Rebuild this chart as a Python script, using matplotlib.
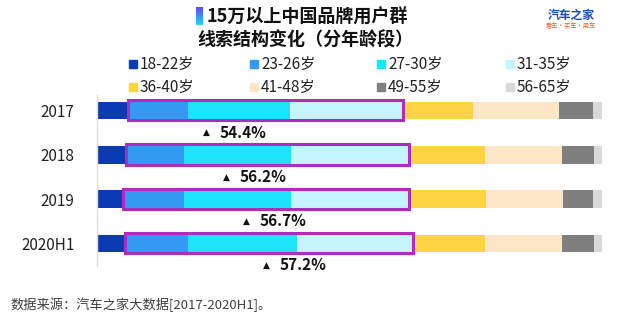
import matplotlib
matplotlib.use('Agg')
import matplotlib.pyplot as plt
from matplotlib.patches import Rectangle
import numpy as np

plt.rcParams['font.family'] = ['Noto Sans CJK SC', 'DejaVu Sans']

years = ['2017', '2018', '2019', '2020H1']
age_groups = ['18-22岁', '23-26岁', '27-30岁', '31-35岁',
              '36-40岁', '41-48岁', '49-55岁', '56-65岁']
s18_22 = [6.0, 5.5, 4.9, 5.3]
s23_26 = [12.0, 11.8, 12.4, 12.8]
s27_30 = [20.2, 21.2, 21.2, 21.5]
s31_35 = [22.2, 23.2, 23.1, 22.9]
s36_40 = [14.1, 15.1, 15.5, 14.3]
s41_48 = [16.9, 15.3, 15.1, 15.3]
s49_55 = [6.8, 6.3, 6.0, 6.3]
s56_65 = [1.8, 1.6, 1.8, 1.6]
shares = [s18_22, s23_26, s27_30, s31_35, s36_40, s41_48, s49_55, s56_65]
colors = ['#0A3BB0', '#3399F3', '#1DE4FA', '#C4F5FC',
          '#FDD343', '#FDE6C6', '#7F7F7F', '#D9D9D9']
box_color = '#B02CC0'

W, H = 620, 332
fig = plt.figure(figsize=(6.2, 3.32), dpi=100)
ax = fig.add_axes([97 / W, 1 - 265.5 / H, (602 - 97) / W, (265.5 - 95) / H])

y = np.arange(len(years))
left = np.zeros(len(years))
for vals, c in zip(shares, colors):
    ax.barh(y, vals, left=left, height=0.40, color=c, edgecolor='none')
    left += np.array(vals)

# magenta box around 23-35 groups + share label
for i in range(len(years)):
    x0 = s18_22[i]
    w = s23_26[i] + s27_30[i] + s31_35[i]
    ax.add_patch(Rectangle((x0 + 0.15, y[i] - 0.235), w, 0.46, fill=False,
                           edgecolor=box_color, lw=2.2, zorder=5))
    tx = 21.7 + 3.97 * i
    ax.text(tx, y[i] + 0.5, '▲', fontsize=6.5, ha='center', va='center',
            color='#111111', family=['DejaVu Sans'])
    ax.text(tx + 2.6, y[i] + 0.5, f'{w:.1f}%', fontsize=11, fontweight='bold',
            ha='left', va='center', color='#111111')

ax.set_xlim(0, 100)
ax.set_ylim(3.5, -0.35)
ax.set_yticks(y)
ax.set_yticklabels(years, fontsize=11, color='#222222')
ax.tick_params(axis='y', length=0, pad=16)
ax.set_xticks([])
for s in ['top', 'right', 'bottom']:
    ax.spines[s].set_visible(False)
ax.spines['left'].set_color('#DDDDDD')
ax.spines['left'].set_linewidth(1)

# legend drawn by hand
lx = [133, 254, 381, 510]
ly = [64, 87]
for k, (lab, c) in enumerate(zip(age_groups, colors)):
    px = lx[k % 4]
    py = ly[k // 4]
    fig.patches.append(Rectangle(((px - 4) / W, 1 - (py + 4) / H), 8 / W, 8 / H,
                                 transform=fig.transFigure, color=c, figure=fig))
    fig.text((px + 7) / W, 1 - py / H, lab, fontsize=11, ha='left', va='center',
             color='#222222')

# title
grad = np.linspace(0, 1, 50).reshape(-1, 1)
gax = fig.add_axes([196 / W, 1 - 25 / H, 7 / W, 18 / H])
gax.imshow(grad, aspect='auto',
           cmap=matplotlib.colors.LinearSegmentedColormap.from_list('g', ['#5B4BF0', '#27D3F5']))
gax.axis('off')
fig.text(206 / W, 1 - 17.5 / H, '15万以上中国品牌用户群', fontsize=13, fontweight='bold',
         ha='left', va='center', color='#111111')
fig.text(197 / W, 1 - 40 / H, '线索结构变化（分年龄段）', fontsize=13, fontweight='bold',
         ha='left', va='center', color='#111111')

# logo
fig.text(571 / W, 1 - 15 / H, '汽车之家', fontsize=8.5, fontweight='bold',
         ha='center', va='center', color='#1A4DBE')
fig.text(571 / W, 1 - 26 / H, '看车·买车·用车', fontsize=4.5, ha='center', va='center',
         color='#E8622A')

# source
fig.text(10 / W, 1 - 305 / H, '数据来源：汽车之家大数据[2017-2020H1]。', fontsize=9.5,
         ha='left', va='center', color='#404040')

fig.savefig('out.png', dpi=100)
